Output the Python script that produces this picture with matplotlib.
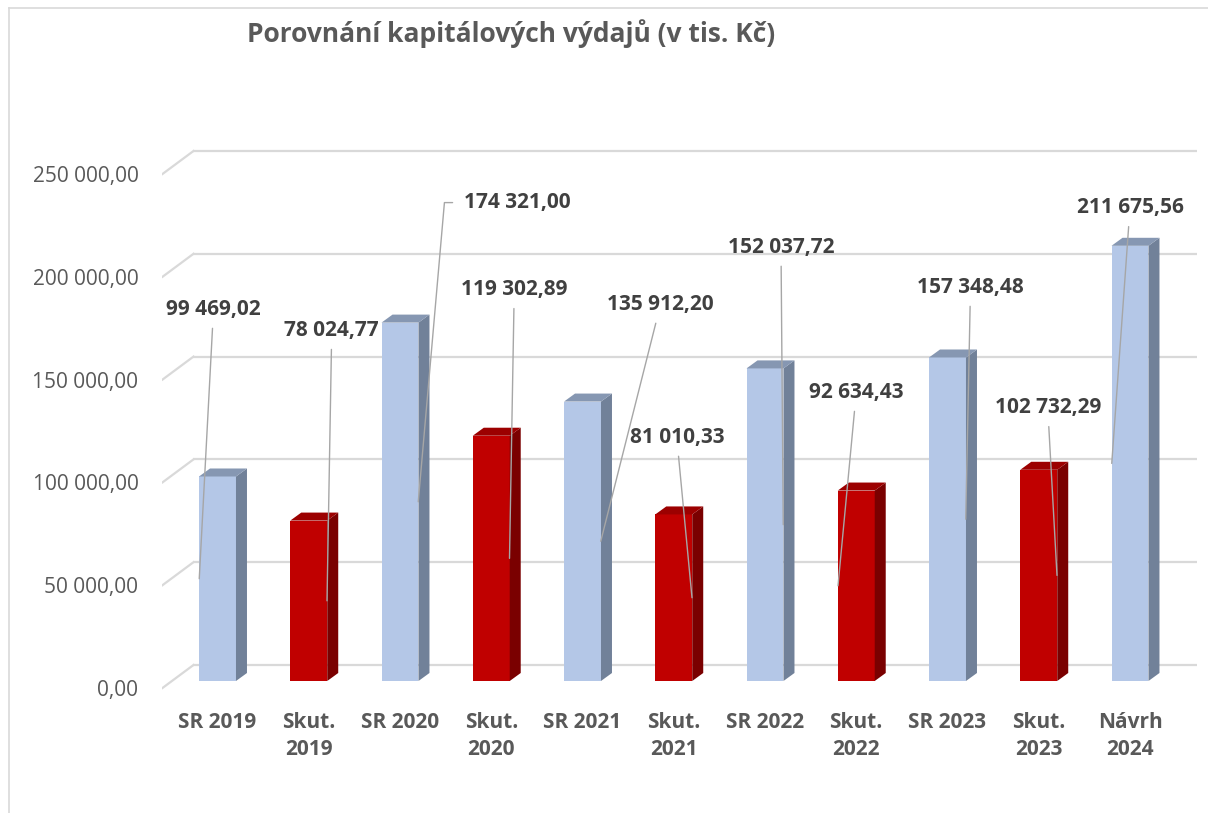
import matplotlib.pyplot as plt
from matplotlib.patches import Polygon

plt.rcParams['font.family'] = ['Open Sans', 'DejaVu Sans']

categories = ['SR 2019', 'Skut.\n2019', 'SR 2020', 'Skut.\n2020', 'SR 2021', 'Skut.\n2021',
              'SR 2022', 'Skut.\n2022', 'SR 2023', 'Skut.\n2023', 'Návrh\n2024']
values = [99469.02, 78024.77, 174321.00, 119302.89, 135912.20, 81010.33,
          152037.72, 92634.43, 157348.48, 102732.29, 211675.56]
value_labels = ['99 469,02', '78 024,77', '174 321,00', '119 302,89', '135 912,20', '81 010,33',
                '152 037,72', '92 634,43', '157 348,48', '102 732,29', '211 675,56']
is_actual = [False, True, False, True, False, True, False, True, False, True, False]
yticks = [0, 50000, 100000, 150000, 200000, 250000]
ytick_labels = ['0,00', '50 000,00', '100 000,00', '150 000,00', '200 000,00', '250 000,00']

# label offsets from bar top (pixels), and which side of the bar the leader hits
label_off = [(-4, 167), (23, 190), (117, 120), (23, 146), (78, 97), (3, 77),
             (16, 121), (0, 98), (23, 70), (9, 62), (0, 38)]
leader_side = [-1, 1, 1, 1, 1, 1, 1, -1, 1, 1, -1]
leader_from_left = [False, False, True, False, False, False, False, False, False, False, False]

W, H = 1208, 813
fig = plt.figure(figsize=(W / 100, H / 100), dpi=100)

# pixel scale of the plot
px_x = 91.25          # px per category
px_y = 0.002056       # px per unit value
x0_px, y0_px = 217.5, 681

left_px, right_px, bot_px, top_px = 162, 1200, 695, 130
ax = fig.add_axes([left_px / W, 1 - bot_px / H, (right_px - left_px) / W, (bot_px - top_px) / H])
ax.set_xlim((left_px - x0_px) / px_x, (right_px - x0_px) / px_x)
ax.set_ylim((y0_px - bot_px) / px_y, (y0_px - top_px) / px_y)

# 3d offsets (in data units)
back_dx, back_dy = 21.6 / px_x, 16 / px_y
front_dx, front_dy = -9.4 / px_x, -7 / px_y
bar_w = 0.405
depth_dx, depth_dy = 11 / px_x, 8 / px_y

n = len(values)
grid_c = '#d9d9d9'
for t in yticks:
    ax.plot([-0.5 + back_dx, n - 0.5 + back_dx], [t + back_dy, t + back_dy],
            color=grid_c, lw=1.6, zorder=1, solid_capstyle='butt')
    ax.plot([-0.5 + front_dx, -0.5 + back_dx], [t + front_dy, t + back_dy],
            color=grid_c, lw=1.6, zorder=1)

xs = list(range(n))
front_cols = ['#C00000' if a else '#B4C7E7' for a in is_actual]
side_cols = ['#7A0000' if a else '#718199' for a in is_actual]
top_cols = ['#9C0000' if a else '#8697B2' for a in is_actual]

ax.bar(xs, values, width=bar_w, color=front_cols, zorder=3)
for i, v in enumerate(values):
    r = i + bar_w / 2
    l = i - bar_w / 2
    side = Polygon([(r, 0), (r + depth_dx, depth_dy), (r + depth_dx, v + depth_dy), (r, v)],
                   closed=True, facecolor=side_cols[i], edgecolor='none', zorder=3)
    top = Polygon([(l, v), (l + depth_dx, v + depth_dy), (r + depth_dx, v + depth_dy), (r, v)],
                  closed=True, facecolor=top_cols[i], edgecolor='none', zorder=3)
    ax.add_patch(side)
    ax.add_patch(top)

for i, v in enumerate(values):
    dx, dy = label_off[i]
    arrow = dict(arrowstyle='-', color='#a6a6a6', lw=1.0, shrinkA=4, shrinkB=0)
    if leader_from_left[i]:
        arrow.update(relpos=(0, 0.5), shrinkA=8, patchA=None,
                     connectionstyle='angle,angleA=180,angleB=85,rad=0')
    ax.annotate(value_labels[i], xy=(i + leader_side[i] * 0.2, v / 2),
                xytext=(i + dx / px_x, v + dy / px_y),
                ha='center', va='center', fontsize=15, fontweight='bold', color='#404040',
                arrowprops=arrow, zorder=5)

ax.set_yticks([t + front_dy for t in yticks])
ax.set_yticklabels(ytick_labels, fontsize=15, color='#595959')
ax.set_xticks(xs)
ax.set_xticklabels(categories, fontsize=15, fontweight='bold', color='#595959', linespacing=1.42)
ax.tick_params(length=0)
ax.tick_params(axis='y', pad=17)
ax.tick_params(axis='x', pad=12)
for s in ax.spines.values():
    s.set_visible(False)

fig.text(511 / W, 1 - 34 / H, 'Porovnání kapitálových výdajů (v tis. Kč)', ha='center', va='center',
         fontsize=19, fontweight='bold', color='#595959')

# chart frame
fig.add_artist(plt.Line2D([9 / W, 9 / W], [0, 1 - 8 / H], color='#d9d9d9', lw=1.2))
fig.add_artist(plt.Line2D([9 / W, 1], [1 - 8 / H, 1 - 8 / H], color='#d9d9d9', lw=1.2))

fig.savefig('out.png', dpi=100)
